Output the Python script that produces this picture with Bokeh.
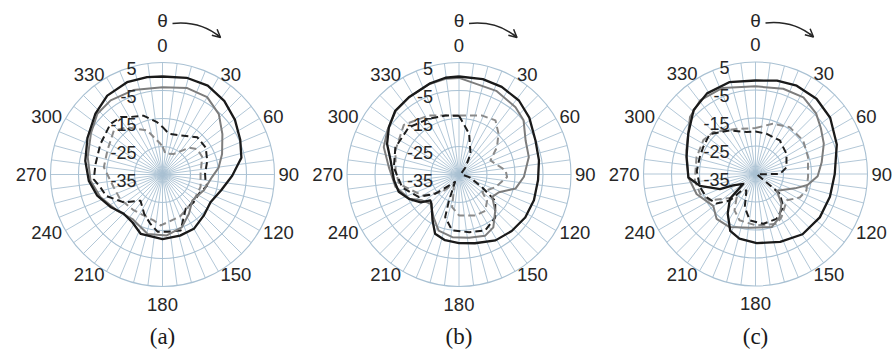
import numpy as np
from bokeh.plotting import figure
from bokeh.models import Range1d, Arrow, OpenHead, ColumnDataSource
from bokeh.core.properties import value
from bokeh.embed import file_html
from bokeh.resources import INLINE

# ---------------- data (angle in degrees clockwise from top, level in dB) ----------------
ANGLE_TICKS = [0, 30, 60, 90, 120, 150, 180, 210, 240, 270, 300, 330]
RING_DB = [5, -5, -15, -25, -35]
PANEL_NAMES = ["(a)", "(b)", "(c)"]

# panel (a)
A_BS_DEG = [0, 14, 27, 40, 53, 66, 78, 91, 105, 120, 135, 150, 164, 180, 200, 212, 225, 238, 252, 265, 280, 296, 312, 325, 339, 351]
A_BS_DB = [0.0, 0.6, 0.6, -0.7, -2.6, -4.6, -6.2, -10.1, -13.3, -15.2, -14.2, -12.6, -12.3, -11.9, -12.4, -14.8, -15.3, -13.1, -10.5, -8.6, -7.0, -5.2, -2.7, -0.6, 0.3, 0.2]
A_GS_DEG = [0, 16, 30, 43, 56, 71, 83, 93, 111, 131, 146, 160, 176, 194, 214, 231, 250, 265, 283, 300, 313, 325, 341]
A_GS_DB = [-3.8, -2.9, -3.1, -5.5, -9.2, -12.5, -14.8, -17.3, -19.2, -20.9, -18.1, -14.9, -13.2, -13.1, -15.8, -14.3, -11.4, -9.2, -7.6, -5.5, -3.2, -2.7, -3.1]
A_BD_DEG = [0, 9, 25, 43, 58, 73, 89, 98, 104, 118, 132, 146, 162, 175, 185, 194, 205, 220, 234, 249, 258, 266, 279, 296, 314, 324, 331, 342, 354]
A_BD_DB = [-18.0, -20.3, -19.6, -16.8, -16.8, -18.3, -19.8, -19.5, -18.6, -20.3, -20.1, -20.2, -14.0, -14.5, -14.5, -16.9, -19.5, -22.8, -18.0, -13.5, -12.4, -10.4, -10.8, -10.3, -9.1, -9.6, -11.5, -12.9, -16.2]
A_GD_DEG = [0, 8, 29, 45, 54, 66, 89, 108, 130, 157, 182, 191, 219, 240, 255, 277, 294, 312, 323, 341, 356]
A_GD_DB = [-25.0, -27.5, -26.6, -21.5, -19.6, -19.5, -21.4, -20.7, -20.5, -18.8, -16.8, -18.3, -18.6, -17.5, -17.0, -13.9, -13.5, -11.6, -13.9, -18.4, -24.0]

# panel (b)
B_BS_DEG = [0, 14, 26, 39, 51, 66, 80, 94, 109, 123, 137, 151, 167, 180, 192, 202, 210, 223, 228, 234, 244, 254, 265, 282, 293, 304, 315, 327, 342, 352]
B_BS_DB = [0.0, 0.1, -0.2, -1.0, -2.7, -5.1, -6.0, -6.7, -6.7, -6.8, -7.4, -8.1, -9.8, -10.5, -11.0, -12.2, -16.1, -20.6, -21.2, -18.1, -15.1, -12.6, -11.7, -10.0, -7.1, -4.8, -2.8, -2.1, -0.9, -0.1]
B_GS_DEG = [0, 24, 40, 50, 63, 76, 92, 104, 114, 124, 135, 147, 157, 171, 186, 200, 211, 224, 235, 244, 259, 276, 290, 302, 315, 327, 342, 352]
B_GS_DB = [-0.5, -2.3, -3.6, -4.9, -8.3, -9.3, -11.8, -14.2, -19.4, -20.7, -16.7, -12.5, -11.2, -12.1, -12.5, -13.7, -17.3, -20.4, -18.9, -15.3, -11.9, -9.8, -6.4, -4.9, -3.0, -2.2, -1.0, -0.5]
B_BD_DEG = [0, 14, 29, 42, 60, 90, 105, 119, 126, 140, 155, 170, 187, 198, 201, 208, 216, 231, 241, 257, 276, 293, 313, 332, 347]
B_BD_DB = [-14.0, -20.0, -26.5, -31.5, -34.0, -34.0, -31.0, -25.6, -19.0, -14.9, -12.9, -14.1, -14.9, -19.0, -25.0, -32.0, -30.9, -24.1, -18.5, -14.2, -11.6, -10.3, -10.4, -12.4, -13.4]
B_GD_DEG = [0, 21, 34, 44, 54, 66, 85, 93, 109, 127, 133, 144, 158, 180, 192, 198, 210, 225, 240, 261, 274, 291, 312, 333, 348]
B_GD_DB = [-13.9, -12.4, -11.7, -14.7, -18.2, -22.7, -18.3, -17.8, -21.2, -24.6, -21.3, -19.0, -19.2, -20.4, -23.1, -29.0, -31.0, -26.0, -20.0, -13.3, -12.3, -10.7, -8.5, -11.3, -13.5]

# panel (c)
C_BS_DEG = [0, 13, 25, 39, 53, 70, 90, 107, 124, 142, 160, 179, 194, 204, 215, 226, 231, 243, 247, 258, 267, 284, 301, 316, 329, 344]
C_BS_DB = [-1.6, -0.8, -0.2, -0.4, -1.6, -4.1, -6.7, -7.2, -7.3, -7.7, -9.2, -10.3, -11.2, -12.8, -17.7, -22.3, -29.4, -26.0, -21.2, -14.7, -11.0, -9.6, -7.0, -3.2, -1.4, -0.9]
C_GS_DEG = [0, 18, 32, 45, 55, 66, 80, 92, 102, 110, 128, 139, 151, 163, 186, 206, 221, 233, 251, 267, 289, 311, 323, 339]
C_GS_DB = [-3.7, -3.0, -2.7, -4.4, -6.5, -8.3, -11.0, -12.8, -16.0, -20.0, -25.3, -20.9, -17.3, -15.2, -15.7, -13.9, -13.8, -16.1, -12.8, -11.0, -8.9, -4.0, -2.1, -2.1]
C_BD_DEG = [0, 15, 36, 57, 78, 90, 100, 129, 140, 155, 171, 187, 198, 209, 220, 224, 233, 245, 257, 273, 287, 297, 311, 330, 348]
C_BD_DB = [-19.8, -20.1, -20.2, -21.8, -23.7, -26.3, -34.5, -23.8, -19.6, -17.3, -17.0, -18.3, -22.6, -28.3, -27.3, -21.8, -17.5, -15.6, -14.6, -14.0, -14.2, -14.0, -13.3, -17.0, -19.7]
C_GD_DEG = [0, 19, 36, 55, 72, 93, 108, 118, 130, 149, 157, 179, 199, 210, 219, 240, 250, 264, 286, 303, 315, 337]
C_GD_DB = [-18.6, -16.0, -14.3, -14.2, -15.3, -16.2, -15.9, -17.1, -20.4, -17.0, -15.7, -16.6, -17.5, -20.0, -24.3, -16.1, -14.0, -13.2, -13.1, -12.8, -13.8, -17.5]

PANELS = [
    [(A_GD_DEG, A_GD_DB), (A_BD_DEG, A_BD_DB), (A_GS_DEG, A_GS_DB), (A_BS_DEG, A_BS_DB)],
    [(B_GD_DEG, B_GD_DB), (B_BD_DEG, B_BD_DB), (B_GS_DEG, B_GS_DB), (B_BS_DEG, B_BS_DB)],
    [(C_GD_DEG, C_GD_DB), (C_BD_DEG, C_BD_DB), (C_GS_DEG, C_GS_DB), (C_BS_DEG, C_BS_DB)],
]

# ---------------- layout / style ----------------
W, H = 893, 349
CENTERS = [(162.0, 175.0), (458.5, 175.0), (755.0, 175.5)]
PX_PER_DB = 2.8
DB_MIN = -35.0
N_SPOKES = 48
GRID_COLOR = "#a9c1d3"
TEXT_COLOR = "#262626"
STYLES = [
    dict(line_color="#8a8a8a", line_width=2.0, line_dash="7 4"),
    dict(line_color="#1e1e1e", line_width=2.0, line_dash="7 4"),
    dict(line_color="#7c7c7c", line_width=2.0),
    dict(line_color="#1a1a1a", line_width=2.3),
]
FONT = value("Liberation Sans")


def to_r(db):
    return (np.clip(np.asarray(db, dtype=float), DB_MIN, None) - DB_MIN) * PX_PER_DB


def polar_xy(cx, cy, deg, db):
    t = np.radians(np.asarray(deg, dtype=float))
    r = to_r(db)
    return cx + r * np.sin(t), cy + r * np.cos(t)


p = figure(width=W, height=H, x_range=Range1d(0, W), y_range=Range1d(0, H),
           output_backend="svg", toolbar_location=None, min_border=0)
p.axis.visible = False
p.grid.visible = False
p.outline_line_color = None
p.background_fill_color = "white"

r_outer = to_r(RING_DB[0])

for pi, (cx, cy) in enumerate(CENTERS):
    # spokes
    sp = np.arange(N_SPOKES) * 360.0 / N_SPOKES
    ex, ey = polar_xy(cx, cy, sp, np.full(N_SPOKES, RING_DB[0]))
    p.segment(x0=np.full(N_SPOKES, cx), y0=np.full(N_SPOKES, cy), x1=ex, y1=ey,
              line_color=GRID_COLOR, line_width=0.9)
    # rings
    rings = [to_r(d) for d in RING_DB if to_r(d) > 0]
    p.circle(x=[cx] * len(rings), y=[cy] * len(rings), radius=rings,
             fill_color=None, line_color=GRID_COLOR, line_width=1.1)

    # series
    for (deg, db), st in zip(PANELS[pi], STYLES):
        xs, ys = polar_xy(cx, cy, list(deg) + [deg[0] + 360], list(db) + [db[0]])
        p.line(xs, ys, line_join="round", **st)

    # angle labels
    lx, ly, la, lb = [], [], [], []
    for a in ANGLE_TICKS:
        s, c = np.sin(np.radians(a)), np.cos(np.radians(a))
        if abs(s) < 0.1:
            rr = r_outer + 11
            la.append("center")
            lb.append("bottom" if c > 0 else "top")
        else:
            rr = r_outer + 4
            la.append("left" if s > 0 else "right")
            lb.append("middle")
        lx.append(cx + rr * s)
        ly.append(cy + rr * c)
    src = ColumnDataSource(dict(x=lx, y=ly, t=[str(a) for a in ANGLE_TICKS], al=la, bl=lb))
    p.text(x="x", y="y", text="t", text_align="al", text_baseline="bl", source=src,
           text_font=FONT, text_font_size="18.5px", text_color=TEXT_COLOR)

    # ring value labels
    ry = [cy + to_r(d) - 5.5 for d in RING_DB]
    p.text(x=[cx - 26] * len(RING_DB), y=ry, text=[str(d) for d in RING_DB],
           text_align="right", text_baseline="middle", text_font=FONT,
           text_font_size="18px", text_color=TEXT_COLOR)

    # theta label and arrow
    p.text(x=[cx], y=[cy + 154], text=["θ"], text_align="center", text_baseline="middle",
           text_font=FONT, text_font_size="19px", text_color=TEXT_COLOR)
    sx, sy = cx + 10, cy + 151
    qx, qy = cx + 38, cy + 154
    fx, fy = cx + 58, cy + 137
    p.quadratic(x0=[sx], y0=[sy], x1=[fx], y1=[fy], cx=[qx], cy=[qy],
                line_color=TEXT_COLOR, line_width=1.5)
    p.add_layout(Arrow(end=OpenHead(size=8, line_color=TEXT_COLOR, line_width=1.5),
                       x_start=fx - 4, y_start=fy + 3.5, x_end=fx, y_end=fy,
                       line_color=TEXT_COLOR, line_width=1.5))

    # panel label
    p.text(x=[cx], y=[13], text=[PANEL_NAMES[pi]], text_align="center", text_baseline="middle",
           text_font=value("Liberation Serif"), text_font_size="23px", text_color="#1a1a1a")

open("out.html", "w").write(file_html(p, INLINE))
